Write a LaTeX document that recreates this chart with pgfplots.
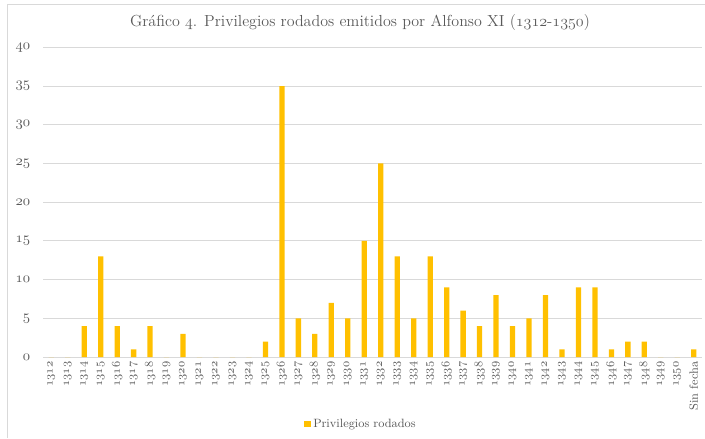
\documentclass[border=0pt]{standalone}
\usepackage{pgfplots}
\pgfplotsset{compat=1.18}
\definecolor{barc}{HTML}{FFC000}
\definecolor{gridc}{HTML}{D9D9D9}
\definecolor{txtc}{HTML}{595959}
\newcommand\osf[1]{{\usefont{OML}{cmm}{m}{it}#1}}
\begin{document}
\begin{tikzpicture}
\useasboundingbox (0,0) rectangle (528.75pt,-328.5pt);
\draw[gridc, line width=0.75pt] (5.625pt,-328.5pt) -- (5.625pt,-3.375pt) -- (528.75pt,-3.375pt);
\node[text=txtc, font=\fontsize{12}{14}\selectfont] at (270pt,-17pt)
  {Gráfico \osf{4}. Privilegios rodados emitidos por Alfonso XI (\osf{1312}-\osf{1350})};
\begin{axis}[
  at={(32.25pt,-35.5pt)}, anchor=north west,
  scale only axis, width=494.25pt, height=232.3pt,
  xmin=-0.5, xmax=39.5, ymin=0, ymax=40,
  axis line style={draw=none},
  major tick length=0pt,
  ymajorgrids, grid style={color=gridc, line width=0.75pt},
  ytick={0,5,...,40},
  yticklabels={\osf{0},\osf{5},\osf{10},\osf{15},\osf{20},\osf{25},\osf{30},\osf{35},\osf{40}},
  y tick label style={text=txtc, font=\fontsize{10.5}{12}\selectfont, xshift=-6pt},
  xtick={0,...,39},
  xticklabels={\osf{1312},\osf{1313},\osf{1314},\osf{1315},\osf{1316},\osf{1317},\osf{1318},\osf{1319},\osf{1320},\osf{1321},\osf{1322},\osf{1323},\osf{1324},\osf{1325},\osf{1326},\osf{1327},\osf{1328},\osf{1329},\osf{1330},\osf{1331},\osf{1332},\osf{1333},\osf{1334},\osf{1335},\osf{1336},\osf{1337},\osf{1338},\osf{1339},\osf{1340},\osf{1341},\osf{1342},\osf{1343},\osf{1344},\osf{1345},\osf{1346},\osf{1347},\osf{1348},\osf{1349},\osf{1350},Sin fecha},
  x tick label style={text=txtc, font=\fontsize{9}{10}\selectfont, rotate=90, anchor=east},
  ybar, bar width=0.32,
  legend style={at={(axis description cs:0.4826,-0.216)}, anchor=center, draw=none,
    font=\fontsize{9}{11}\selectfont, text=txtc},
  legend image code/.code={\fill[barc] (0pt,-2.6pt) rectangle (5.2pt,2.6pt);},
]
\addplot[fill=barc, draw=none] coordinates {
(0,0) (1,0) (2,4) (3,13) (4,4) (5,1) (6,4) (7,0) (8,3) (9,0)
(10,0) (11,0) (12,0) (13,2) (14,35) (15,5) (16,3) (17,7) (18,5) (19,15)
(20,25) (21,13) (22,5) (23,13) (24,9) (25,6) (26,4) (27,8) (28,4) (29,5)
(30,8) (31,1) (32,9) (33,9) (34,1) (35,2) (36,2) (37,0) (38,0) (39,1)
};
\addlegendentry{Privilegios rodados}
\end{axis}
\end{tikzpicture}
\end{document}
